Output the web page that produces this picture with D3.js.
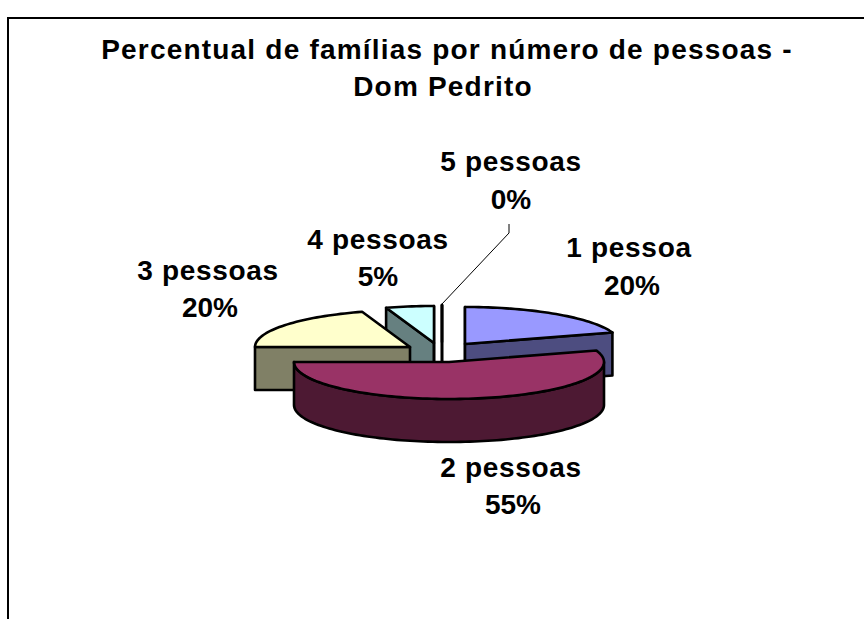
<!DOCTYPE html>
<html><head><meta charset="utf-8">
<script src="https://cdnjs.cloudflare.com/ajax/libs/d3/7.8.5/d3.min.js"></script>
<style>html,body{margin:0;padding:0;background:#fff}svg{display:block}</style></head>
<body><script>
const categories = ["1 pessoa","2 pessoas","3 pessoas","4 pessoas","5 pessoas"];
const values = [20,55,20,5,0];
const percentLabels = ["20%","55%","20%","5%","0%"];
const titleLines = ["Percentual de famílias por número de pessoas -","Dom Pedrito"];
const topColors = ["#9999FF","#993366","#FFFFCC","#CCFFFF","#FFFFFF"];
const sideColors = ["#4D4D80","#4D1933","#808066","#668080","#FFFFFF"];

// layout
const W=864,H=619,RX=155,RY=37,DEPTH=43;
const centers=[[465,344],[449,362],[410,347],[434,343],[442,342]];
const namePos=[[629,257],[511,477],[208,280],[378,249],[511,171]];
const pctPos=[[632,295],[513,514],[210,317],[378,286],[511,209]];
const titlePos=[[447,59],[443,96]];
const drawOrder=[4,3,2,0,1];
const FS=28;

const svg=d3.select("body").append("svg").attr("width",W).attr("height",H);
svg.append("path").attr("d",`M8,${H}V18H${W}`).attr("fill","none").attr("stroke","#000").attr("stroke-width",2);

const arcs=d3.pie().sort(null).startAngle(0).endAngle(2*Math.PI).value(d=>d)(values);
const line=d3.line();
const pt=(c,a,dz=0)=>[c[0]+RX*Math.sin(a),c[1]-RY*Math.cos(a)+dz];
const sample=(a0,a1)=>{const n=Math.max(1,Math.ceil(Math.abs(a1-a0)/0.03));return d3.range(n+1).map(i=>a0+(a1-a0)*i/n);};
const eps=1e-9;

drawOrder.forEach(i=>{
  const d=arcs[i],c=centers[i],a0=d.startAngle,a1=d.endAngle;
  const g=svg.append("g").attr("stroke","#000").attr("stroke-width",2.6).attr("stroke-linejoin","round");
  const side=g.append("g").attr("fill",sideColors[i]);
  const cut=a=>side.append("path").attr("d",line([c,pt(c,a),pt(c,a,DEPTH),[c[0],c[1]+DEPTH]])+"Z");
  if(Math.sin(a0)<eps) cut(a0);
  if(Math.sin(a1)>-eps) cut(a1);
  const lo=Math.max(a0,Math.PI/2),hi=Math.min(a1,3*Math.PI/2);
  if(hi>lo){
    const s=sample(lo,hi);
    side.append("path").attr("d",line(s.map(a=>pt(c,a)).concat(s.slice().reverse().map(a=>pt(c,a,DEPTH))))+"Z");
  }
  g.append("path").attr("fill",topColors[i])
    .attr("d",line([c].concat(sample(a0,a1).map(a=>pt(c,a))))+"Z");
});

// leader line for the 5 pessoas label
svg.append("path").attr("d",line([[442,304],[509,233],[509,224]]))
  .attr("fill","none").attr("stroke","#000").attr("stroke-width",1);

const txt=(p,s,ls)=>svg.append("text").attr("x",p[0]).attr("y",p[1]).attr("text-anchor","middle")
  .attr("font-family","'Liberation Sans',Arial,sans-serif").attr("font-weight","bold")
  .attr("font-size",FS).attr("letter-spacing",ls).attr("fill","#000").text(s);
titleLines.forEach((s,i)=>txt(titlePos[i],s,1.2));
categories.forEach((s,i)=>{
  txt(namePos[i],s,0.7);
  txt(pctPos[i],percentLabels[i],0);
});
</script></body></html>
